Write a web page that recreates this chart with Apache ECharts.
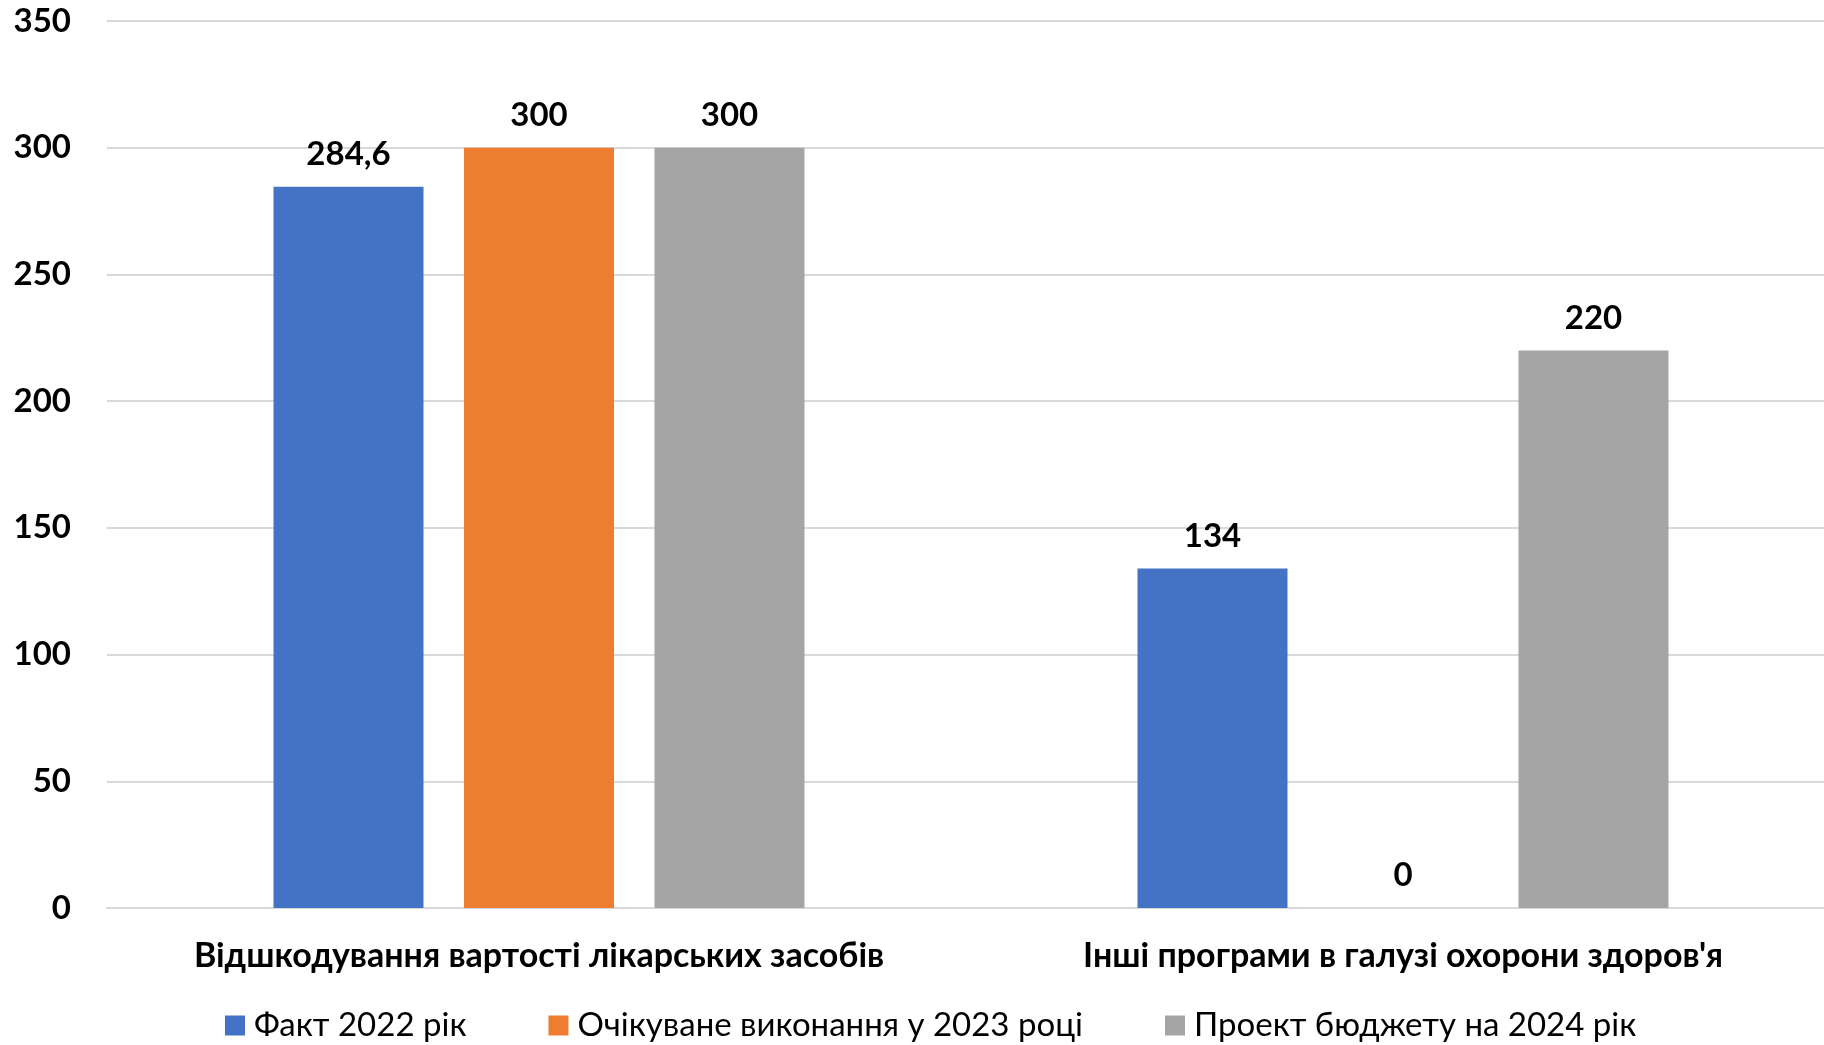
<!DOCTYPE html>
<html>
<head>
<meta charset="utf-8">
<script src="https://cdn.jsdelivr.net/npm/echarts@6/dist/echarts.min.js"></script>
<style>
  html, body { margin: 0; padding: 0; background: #fff; }
  #mycharts { width: 1824px; height: 1045px; }
</style>
</head>
<body>
<div id="mycharts"></div>
<script>
// категорії
var categories = ["Відшкодування вартості лікарських засобів", "Інші програми в галузі охорони здоров'я"];
// серії
var seriesNames = ["Факт 2022 рік", "Очікуване виконання у 2023 році", "Проект бюджету на 2024 рік"];
var fact2022 = [284.6, 134];
var expected2023 = [300, 0];
var budget2024 = [300, 220];
var colors = ["#4472C4", "#ED7D31", "#A5A5A5"];
// вісь Y
var yTicks = [0, 50, 100, 150, 200, 250, 300, 350];

var font = "Lato, 'Open Sans', sans-serif";

var mycharts = echarts.init(document.getElementById("mycharts"));

function makeSeries(name, data, color) {
  return {
    name: name,
    type: "bar",
    data: data,
    barWidth: 150,
    barGap: "27%",
    itemStyle: { color: color },
    label: {
      show: true,
      position: "top",
      distance: 16,
      color: "#000",
      fontFamily: font,
      fontWeight: "bold",
      fontSize: 33,
      formatter: function (p) {
        return String(p.value).replace(".", ",");
      }
    }
  };
}

var option = {
  animation: false,
  color: colors,
  grid: {
    left: 107,
    width: 1728,
    top: 21,
    bottom: 137,
    outerBoundsMode: "none"
  },
  legend: {
    left: 225,
    top: 1009,
    padding: 0,
    itemWidth: 20,
    itemHeight: 20,
    itemGap: 82,
    icon: "rect",
    textStyle: {
      fontFamily: font,
      fontSize: 33,
      color: "#000",
      padding: [0, 0, 0, 4]
    },
    data: seriesNames
  },
  xAxis: {
    type: "category",
    data: categories,
    axisTick: { show: false },
    axisLine: { lineStyle: { color: "#D9D9D9", width: 2 } },
    axisLabel: {
      interval: 0,
      margin: 31,
      color: "#000",
      fontFamily: font,
      fontWeight: "bold",
      fontSize: 34
    }
  },
  yAxis: {
    type: "value",
    min: yTicks[0],
    max: yTicks[yTicks.length - 1],
    interval: 50,
    axisLine: { show: false },
    axisTick: { show: false },
    splitLine: { lineStyle: { color: "#D9D9D9", width: 2 } },
    axisLabel: {
      margin: 36,
      color: "#000",
      fontFamily: font,
      fontWeight: "bold",
      fontSize: 33
    }
  },
  series: [
    makeSeries(seriesNames[0], fact2022, colors[0]),
    makeSeries(seriesNames[1], expected2023, colors[1]),
    makeSeries(seriesNames[2], budget2024, colors[2])
  ]
};
mycharts.setOption(option);
</script>
</body>
</html>
